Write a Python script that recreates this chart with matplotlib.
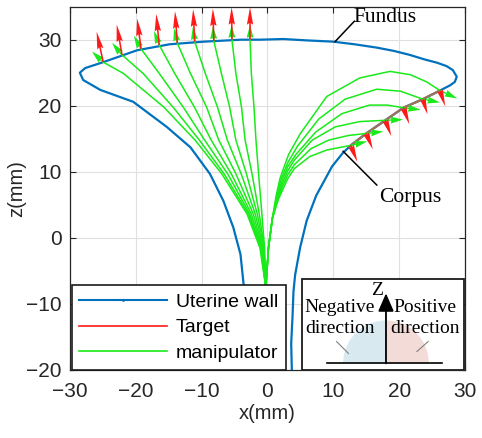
import numpy as np
import matplotlib.pyplot as plt
from matplotlib.lines import Line2D
from matplotlib.patches import Rectangle, Wedge

# uterine wall outline, left bottom -> fundus -> right bottom
wall_x = [-3.1, -3.3, -3.6, -4.1, -5.2, -6.7, -8.75, -11.7, -15.3, -20.4, -25.4,
          -28.0, -28.5, -27.7, -24.95, -19.8, -14.9, -9.7, -4.0, -1.15, 2.4, 5.85,
          10.0, 13.25, 16.6, 19.2, 21.6, 23.9, 25.8, 27.2, 28.15, 28.75, 28.45,
          27.75, 26.2, 23.6, 20.65, 17.9, 15.0, 12.65, 11.4, 9.8, 7.4, 5.95, 4.95,
          4.2, 3.95, 3.8, 3.6, 3.7]
wall_y = [-20, -12, -7.3, -2.5, 1.6, 5.6, 9.7, 13.7, 16.8, 20.6, 22.4,
          23.9, 25.0, 25.7, 26.6, 28.4, 29.3, 29.7, 30.0, 30.0, 30.1, 29.9,
          29.7, 29.3, 28.8, 28.3, 27.7, 27.0, 26.5, 26.0, 25.4, 24.4, 23.6,
          23.1, 22.3, 21.0, 19.7, 17.8, 15.8, 14.0, 12.8, 10.8, 6.4, 2.6, -1.5,
          -5.6, -8.1, -12, -16, -20]

# fundus targets (left group)
fundus_x = [-24.95, -22.1, -19.2, -16.45, -13.7, -11.05, -8.15, -5.4, -2.65]
fundus_y = [26.6, 27.7, 28.6, 29.2, 29.5, 29.7, 29.8, 30.0, 30.0]
fundus_u = [-1.0, -0.8, -0.6, -0.45, -0.35, -0.25, -0.15, -0.05, 0.0]
fundus_v = [4.6, 4.6, 4.6, 4.7, 4.8, 4.9, 4.9, 4.9, 4.9]
fundus_tip_u = [-1.7, -1.5, -1.1, -0.8, -0.5, -0.3, -0.15, -0.05, 0.0]
fundus_tip_v = [1.6, 1.8, 2.0, 2.1, 2.2, 2.2, 2.2, 2.2, 2.2]

# manipulator shapes to the fundus, x at fixed heights
left_levels = [-7.5, -1.5, 3.6, 9.7, 14.8, 19.8, 24.9]
left_curves = [
    [-0.25, -1.15, -3.1, -6.95, -11.0, -15.75, -21.9],
    [-0.25, -1.05, -2.9, -6.6, -10.35, -14.35, -18.9],
    [-0.25, -0.95, -2.7, -6.05, -9.55, -12.8, -16.45],
    [-0.25, -0.85, -2.45, -5.5, -8.55, -11.1, -14.1],
    [-0.25, -0.75, -2.15, -4.8, -7.4, -9.25, -11.7],
    [-0.25, -0.65, -1.85, -4.0, -6.1, -7.6, -9.45],
    [-0.25, -0.55, -1.55, -3.2, -4.8, -5.75, -7.0],
    [-0.25, -0.5, -1.25, -2.35, -3.4, -3.95, -4.8],
    [-0.25, -0.45, -0.85, -1.35, -1.75, -2.05, -2.45],
]

# corpus targets (right group)
corpus_x = [26.2, 23.6, 20.65, 17.9, 15.0, 12.65]
corpus_y = [22.3, 21.0, 19.7, 17.8, 15.8, 14.0]
corpus_u = [0.8, 0.7, 0.9, 0.9, 1.0, 1.0]
corpus_v = [-2.4, -2.3, -2.5, -2.4, -2.4, -2.5]
corpus_tip_u = [2.6, 2.6, 2.6, 2.7, 2.6, 2.5]
corpus_tip_v = [-1.2, -0.5, -0.3, 0.1, 0.3, 0.6]

right_curves_x = [
    [-0.25, 0.15, 0.75, 1.3, 1.9, 3.2, 5.0, 9.0, 14.0, 18.6, 21.7, 24.2],
    [-0.25, 0.15, 0.75, 1.4, 2.0, 3.1, 4.5, 7.8, 11.8, 16.6, 20.2],
    [-0.25, 0.15, 0.75, 1.5, 2.1, 3.1, 4.3, 7.3, 11.3, 15.5, 18.2],
    [-0.25, 0.15, 0.75, 1.55, 2.2, 3.1, 4.1, 6.8, 10.3, 14.0],
    [-0.25, 0.15, 0.75, 1.6, 2.3, 3.1, 4.1, 6.6, 9.3, 12.3],
    [-0.25, 0.15, 0.75, 1.65, 2.4, 3.1, 4.1, 6.4, 9.0],
]
right_curves_y = [
    [-7.5, -1.5, 3.0, 6.3, 9.0, 12.6, 15.8, 21.4, 24.2, 25.2, 24.7, 23.6],
    [-7.5, -1.5, 3.0, 6.2, 8.7, 11.4, 13.8, 18.0, 21.0, 22.5, 22.2],
    [-7.5, -1.5, 3.0, 6.1, 8.4, 10.8, 12.6, 16.0, 18.8, 20.1, 20.1],
    [-7.5, -1.5, 3.0, 6.0, 8.1, 10.2, 11.8, 14.8, 16.8, 17.6],
    [-7.5, -1.5, 3.0, 5.9, 7.8, 9.6, 11.1, 13.5, 14.8, 15.5],
    [-7.5, -1.5, 3.0, 5.8, 7.5, 9.0, 10.5, 12.3, 13.3],
]

blue = '#0072BD'
green = '#19ea19'
red = '#ff1a1a'

fig = plt.figure(figsize=(4.82, 4.38), dpi=100)
ax = fig.add_axes([0.1452, 0.1553, 0.8195, 0.8295])

ax.plot(wall_x, wall_y, color=blue, lw=1.6, zorder=2)
ax.plot(corpus_x, corpus_y, color='#a0705a', lw=1.6, zorder=2.5)

for i, xs in enumerate(left_curves):
    ax.plot(xs + [fundus_x[i]], left_levels + [fundus_y[i]],
            color=green, lw=1.1, zorder=3)
for i in range(len(corpus_x)):
    ax.plot(right_curves_x[i] + [corpus_x[i]], right_curves_y[i] + [corpus_y[i]],
            color=green, lw=1.1, zorder=3)

# tip direction (green) and target direction (red)
qkw = dict(angles='xy', scale_units='xy', scale=1)
ax.quiver(fundus_x + corpus_x, fundus_y + corpus_y,
          fundus_tip_u + corpus_tip_u, fundus_tip_v + corpus_tip_v,
          color=green, width=0.0035, headwidth=5, headlength=9,
          headaxislength=8.5, zorder=4, **qkw)
ax.quiver(fundus_x + corpus_x, fundus_y + corpus_y,
          fundus_u + corpus_u, fundus_v + corpus_v,
          color=red, width=0.004, headwidth=4, headlength=11,
          headaxislength=10, zorder=4.5, **qkw)

# annotations
ax.plot([10.26, 13.2], [29.7, 32.8], color='k', lw=1.1, zorder=5)
ax.text(13.1, 33.3, 'Fundus', family='Liberation Serif', fontsize=15.5,
        ha='left', va='center', zorder=5)
ax.plot([11.5, 16.6], [13.1, 8.0], color='k', lw=1.1, zorder=5)
ax.text(16.9, 6.1, 'Corpus', family='Liberation Serif', fontsize=15.5,
        ha='left', va='center', zorder=5)

# inset showing direction convention
ax.add_patch(Rectangle((5.2, -20), 24.6, 13.74, facecolor='white',
                       edgecolor='#1a1a1a', lw=1.3, zorder=6))
ax.add_patch(Wedge((18.0, -19.0), 6.5, 90, 180, facecolor='#d8e9f0',
                   edgecolor='none', zorder=6.5))
ax.add_patch(Wedge((18.0, -19.0), 6.5, 0, 90, facecolor='#f3dcd8',
                   edgecolor='none', zorder=6.5))
ax.plot([9.0, 26.5], [-19.0, -19.0], color='k', lw=1.2, zorder=7)
ax.annotate('', xy=(18.0, -8.4), xytext=(18.0, -19.0),
            arrowprops=dict(arrowstyle='-|>,head_length=0.55,head_width=0.24',
                            mutation_scale=20, lw=1.3, color='k',
                            shrinkA=0, shrinkB=0), zorder=7)
ax.text(16.7, -8.0, 'Z', family='Liberation Serif', fontsize=14,
        ha='center', va='center', zorder=8)
ax.text(11.0, -12.1, 'Negative\ndirection', family='Liberation Serif',
        fontsize=14, ha='center', va='center', linespacing=1.3, zorder=8)
ax.text(23.9, -12.1, 'Positive\ndirection', family='Liberation Serif',
        fontsize=14, ha='center', va='center', linespacing=1.3, zorder=8)
ax.plot([10.5, 12.3], [-15.7, -17.5], color='#808080', lw=0.8, zorder=7)
ax.plot([24.4, 22.7], [-15.7, -17.2], color='#808080', lw=0.8, zorder=7)

ax.set_xlim(-30, 30)
ax.set_ylim(-20, 35)
ax.set_xticks([-30, -20, -10, 0, 10, 20, 30])
ax.set_yticks([-20, -10, 0, 10, 20, 30])
ax.grid(True, color='#e0e0e0', lw=0.8, zorder=0)
ax.set_axisbelow(True)
ax.tick_params(direction='in', top=True, right=True, length=4, width=0.8,
               labelsize=15, colors='#262626', pad=6)
ax.tick_params(axis='x', pad=9)
for lab in ax.get_xticklabels() + ax.get_yticklabels():
    lab.set_family('Liberation Sans')
for s in ax.spines.values():
    s.set_color('#262626')
    s.set_linewidth(0.9)
ax.set_xlabel('x(mm)', family='Liberation Sans', fontsize=14.5, color='#262626',
              labelpad=2)
ax.set_ylabel('z(mm)', family='Liberation Sans', fontsize=14.5, color='#262626',
              labelpad=0)

handles = [Line2D([], [], color=blue, lw=1.5, marker='.', markersize=2),
           Line2D([], [], color=red, lw=1.2),
           Line2D([], [], color=green, lw=1.2)]
leg = ax.legend(handles, ['Uterine wall', 'Target', 'manipulator'],
                loc='lower left', bbox_to_anchor=(0.004, 0.0), borderaxespad=0,
                fancybox=False, framealpha=1, edgecolor='#1a1a1a',
                prop={'family': 'Liberation Sans', 'size': 14},
                handlelength=4.5, handletextpad=0.45, labelspacing=0.42,
                borderpad=0.4)
leg.get_frame().set_linewidth(1.2)
leg.set_zorder(10)

fig.savefig('out.png', dpi=100)
